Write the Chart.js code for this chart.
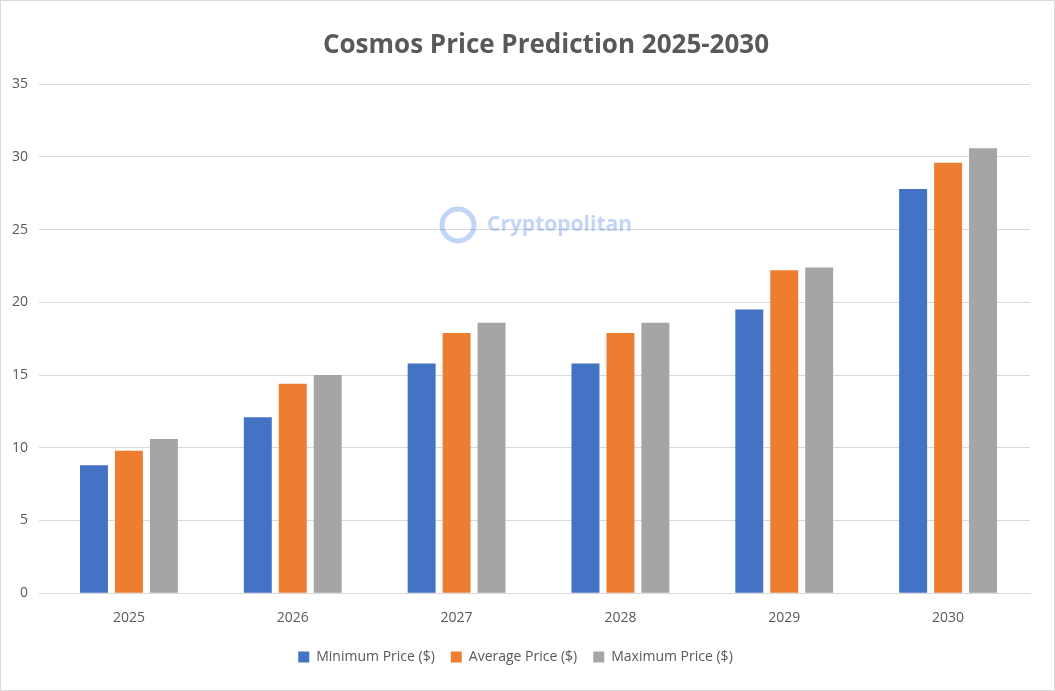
<!DOCTYPE html>
<html>
<head>
<meta charset="utf-8">
<script src="https://cdn.jsdelivr.net/npm/chart.js@4"></script>
<style>
  body { margin: 0; background: #fff; }
  #wrap { position: absolute; left: 0; top: 0; width: 1053px; height: 689px; border: 1px solid #d9d9d9; }
</style>
</head>
<body>
<div id="wrap"><canvas id="c"></canvas></div>
<script>
const years = ['2025', '2026', '2027', '2028', '2029', '2030'];
const minPrice = [8.8, 12.1, 15.8, 15.8, 19.5, 27.8];
const avgPrice = [9.8, 14.4, 17.9, 17.9, 22.2, 29.6];
const maxPrice = [10.6, 15.0, 18.6, 18.6, 22.4, 30.6];
const titleText = 'Cosmos Price Prediction 2025-2030';

// faint watermark plus the title (drawn a bit right of centre like the source)
const extras = {
    id: 'extras',
    beforeDatasetsDraw(chart) {
        const ctx = chart.ctx;
        ctx.save();
        ctx.globalAlpha = 0.35;
        ctx.strokeStyle = '#4a86e8';
        ctx.lineWidth = 5;
        ctx.beginPath();
        ctx.arc(457, 224, 16, 0, Math.PI * 2);
        ctx.stroke();
        ctx.fillStyle = '#4a86e8';
        ctx.font = 'bold 21px "Open Sans"';
        ctx.textBaseline = 'middle';
        ctx.fillText('Cryptopolitan', 486, 224);
        ctx.restore();
    },
    afterDraw(chart) {
        const ctx = chart.ctx;
        ctx.save();
        ctx.fillStyle = '#595959';
        ctx.font = 'bold 26px "Open Sans"';
        ctx.textAlign = 'center';
        ctx.textBaseline = 'middle';
        ctx.fillText(titleText, 545, 45);
        ctx.restore();
    }
};

const ds = (label, data, color) => ({
    label, data, backgroundColor: color,
    categoryPercentage: 0.64, barPercentage: 0.8
});

new Chart(document.getElementById('c'), {
    type: 'bar',
    data: {
        labels: years,
        datasets: [
            ds('Minimum Price ($)', minPrice, '#4472c4'),
            ds('Average Price ($)', avgPrice, '#ed7d31'),
            ds('Maximum Price ($)', maxPrice, '#a5a5a5')
        ]
    },
    options: {
        responsive: true,
        maintainAspectRatio: false,
        animation: false,
        layout: { padding: { left: 0, right: 24, top: 0, bottom: 16 } },
        plugins: {
            title: {
                display: true,
                text: ' ',
                font: { family: 'Open Sans', size: 26, weight: 'bold' },
                padding: { top: 34, bottom: 18 }
            },
            legend: {
                position: 'bottom',
                labels: {
                    boxWidth: 11, boxHeight: 11, color: '#595959',
                    font: { family: 'Open Sans', size: 14 }, padding: 16
                }
            },
            tooltip: { enabled: false }
        },
        scales: {
            x: {
                grid: { display: false },
                border: { color: '#d9d9d9' },
                ticks: { color: '#595959', font: { family: 'Open Sans', size: 14 }, padding: 8 }
            },
            y: {
                min: 0, max: 35,
                ticks: { stepSize: 5, color: '#595959', font: { family: 'Open Sans', size: 14 }, padding: 11 },
                grid: { color: '#d9d9d9' },
                border: { display: false }
            }
        }
    },
    plugins: [extras]
});
</script>
</body>
</html>
